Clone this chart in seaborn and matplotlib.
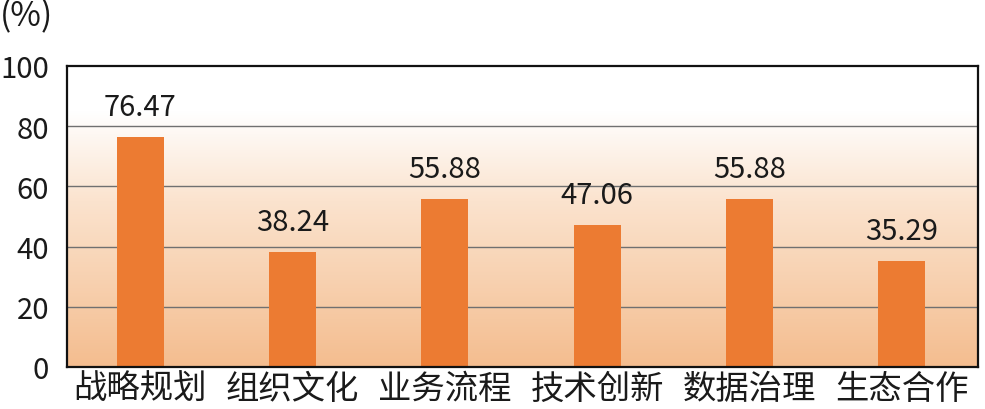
import numpy as np
import pandas as pd
import matplotlib
matplotlib.use("Agg")
import matplotlib.pyplot as plt
import seaborn as sns
from matplotlib.colors import LinearSegmentedColormap

categories = ["战略规划", "组织文化", "业务流程", "技术创新", "数据治理", "生态合作"]
values = [76.47, 38.24, 55.88, 47.06, 55.88, 35.29]
yticks = [0, 20, 40, 60, 80, 100]

sns.set_theme(style="white")
plt.rcParams['font.family'] = ['Noto Sans CJK SC', 'DejaVu Sans']

fig = plt.figure(figsize=(9.85, 4.10), dpi=100)
ax = fig.add_axes([67/985, 42/410, 911/985, 301/410])

df = pd.DataFrame({"cat": categories, "val": values})

# gradient background
cmap = LinearSegmentedColormap.from_list("bg", [(0, "#F4BD8F"), (0.55, "#FBE3CE"), (0.85, "#FFFFFF"), (1, "#FFFFFF")])
grad = np.linspace(0, 1, 256).reshape(-1, 1)
ax.imshow(grad, cmap=cmap, origin="lower", aspect="auto",
          extent=[-0.48, len(categories) - 0.5, 0, 100], zorder=0)

for y in yticks[1:-1]:
    ax.axhline(y, color="#707070", lw=1.0, zorder=1)

sns.barplot(data=df, x="cat", y="val", color="#EC7B32", width=0.31,
            saturation=1, ax=ax, zorder=2, linewidth=0, edgecolor="none")

for i, v in enumerate(values):
    ax.text(i, v + 5, f"{v:.2f}", ha="center", va="bottom", fontsize=21,
            color="#1a1a1a", zorder=3)

ax.set_xlim(-0.48, len(categories) - 0.5)
ax.set_ylim(0, 100)
ax.set_yticks(yticks)
ax.set_yticklabels([str(t) for t in yticks], fontsize=21, color="#1a1a1a")
ax.tick_params(axis="y", length=0, pad=13)
ax.set_xticks(range(len(categories)))
ax.set_xticklabels(categories, fontsize=24, color="#1a1a1a")
ax.tick_params(axis="x", length=0, pad=3)
ax.set_xlabel("")
ax.set_ylabel("")
for s in ax.spines.values():
    s.set_color("#111111")
    s.set_linewidth(1.6)

fig.text(0.0, 1 - 17/410, "(%)", fontsize=24, ha="left", va="center", color="#1a1a1a")

fig.savefig("out.png", dpi=100)
